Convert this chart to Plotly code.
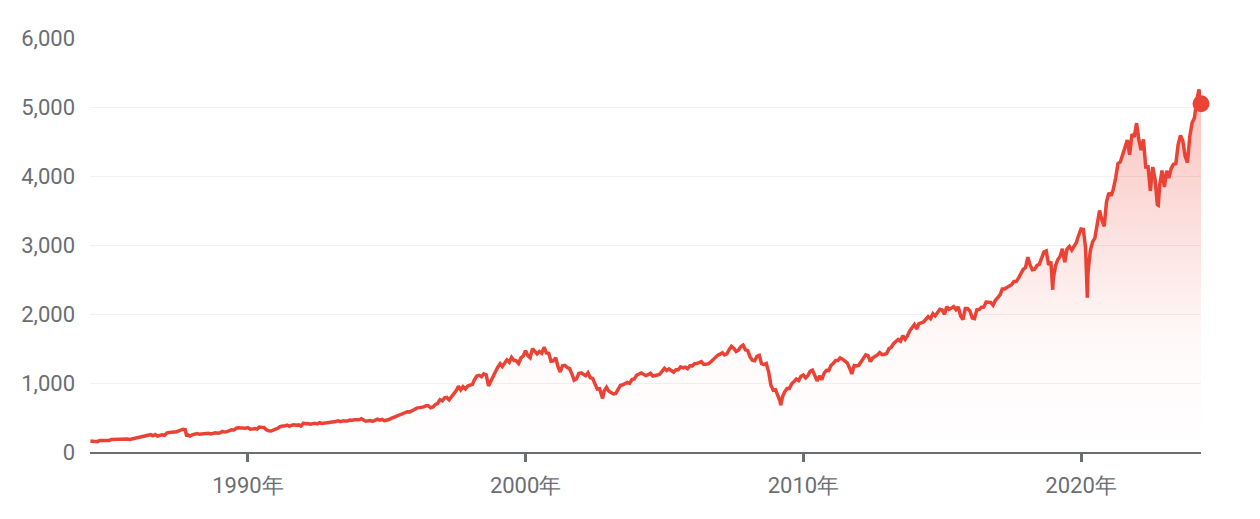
import plotly.graph_objects as go
import pandas as pd

# Monthly index closes (start Apr 1984)
vals_1984 = [160.1, 150.6, 153.2, 150.7, 166.7, 166.1, 166.1, 163.6, 167.2]
vals_1985 = [179.6, 181.2, 180.7, 179.8, 189.6, 191.9, 190.9, 188.6, 182.1, 189.8, 202.2, 211.3]
vals_1986 = [211.8, 226.9, 238.9, 235.5, 247.4, 250.8, 236.1, 252.9, 231.3, 243.0, 249.2, 242.2]
vals_1987 = [274.1, 284.2, 291.7, 288.4, 290.1, 304.0, 318.7, 329.8, 321.8, 251.8, 230.3, 247.1]
vals_1988 = [257.1, 267.8, 258.9, 261.3, 262.2, 273.5, 272.0, 261.5, 271.9, 279.0, 273.7, 277.7]
vals_1989 = [297.5, 288.9, 294.9, 309.6, 320.5, 318.0, 346.1, 351.5, 349.2, 340.4, 346.0, 353.4]
vals_1990 = [329.1, 331.9, 339.9, 330.8, 361.2, 358.0, 356.2, 322.6, 306.1, 304.0, 322.2, 330.2]
vals_1991 = [343.9, 367.1, 375.2, 375.3, 389.8, 371.2, 387.8, 395.4, 387.9, 392.5, 375.2, 417.1]
vals_1992 = [408.8, 412.7, 403.7, 415.0, 415.4, 408.1, 424.2, 414.0, 417.8, 418.7, 431.4, 435.7]
vals_1993 = [438.8, 443.4, 451.7, 440.2, 450.2, 450.5, 448.1, 463.6, 458.9, 467.8, 461.8, 466.5]
vals_1994 = [481.6, 467.1, 445.8, 450.9, 456.5, 444.3, 458.3, 475.5, 462.7, 472.4, 453.7, 459.3]
vals_1995 = [470.4, 487.4, 500.7, 514.7, 533.4, 544.8, 562.1, 561.9, 584.4, 581.5, 605.4, 615.9]
vals_1996 = [636.0, 640.4, 645.5, 654.2, 669.1, 670.6, 639.9, 652.0, 687.3, 705.3, 757.0, 740.7]
vals_1997 = [786.2, 790.8, 757.1, 801.3, 848.3, 885.1, 954.3, 899.5, 947.3, 914.6, 955.4, 970.4]
vals_1998 = [980.3, 1049.3, 1101.8, 1111.8, 1090.8, 1133.8, 1120.7, 957.3, 1017.0, 1098.7, 1163.6, 1229.2]
vals_1999 = [1279.6, 1238.3, 1286.4, 1335.2, 1301.8, 1372.7, 1328.7, 1320.4, 1282.7, 1362.9, 1389.0, 1469.3]
vals_2000 = [1394.5, 1366.4, 1498.6, 1452.4, 1420.6, 1454.6, 1430.8, 1517.7, 1436.5, 1429.4, 1315.2, 1320.3]
vals_2001 = [1366.0, 1239.9, 1160.3, 1249.5, 1256.0, 1224.4, 1211.2, 1133.6, 1040.9, 1059.8, 1139.5, 1148.1]
vals_2002 = [1130.2, 1106.7, 1147.4, 1076.9, 1067.1, 989.8, 911.6, 916.1, 815.3, 885.8, 936.3, 879.8]
vals_2003 = [855.7, 841.2, 848.2, 916.9, 963.6, 974.5, 990.3, 1008.0, 996.0, 1050.7, 1058.2, 1111.9]
vals_2004 = [1131.1, 1144.9, 1126.2, 1107.3, 1120.7, 1140.8, 1101.7, 1104.2, 1114.6, 1130.2, 1173.8, 1211.9]
vals_2005 = [1181.3, 1203.6, 1180.6, 1156.9, 1191.5, 1191.3, 1234.2, 1220.3, 1228.8, 1207.0, 1249.5, 1248.3]
vals_2006 = [1280.1, 1280.7, 1294.9, 1310.6, 1270.1, 1270.2, 1276.7, 1303.8, 1335.9, 1377.9, 1400.6, 1418.3]
vals_2007 = [1438.2, 1406.8, 1420.9, 1482.4, 1530.6, 1503.4, 1455.3, 1474.0, 1526.8, 1549.4, 1481.1, 1468.4]
vals_2008 = [1378.6, 1330.6, 1322.7, 1385.6, 1400.4, 1280.0, 1267.4, 1282.8, 1166.4, 968.8, 896.2, 903.3]
vals_2009 = [825.9, 735.1, 797.9, 872.8, 919.1, 919.3, 987.5, 1020.6, 1057.1, 1036.2, 1095.6, 1115.1]
vals_2010 = [1073.9, 1104.5, 1169.4, 1186.7, 1089.4, 1030.7, 1101.6, 1049.3, 1141.2, 1183.3, 1180.6, 1257.6]
vals_2011 = [1286.1, 1327.2, 1325.8, 1363.6, 1345.2, 1320.6, 1292.3, 1218.9, 1131.4, 1253.3, 1247.0, 1257.6]
vals_2012 = [1312.4, 1365.7, 1408.5, 1397.9, 1310.3, 1362.2, 1379.3, 1406.6, 1440.7, 1412.2, 1416.2, 1426.2]
vals_2013 = [1498.1, 1514.7, 1569.2, 1597.6, 1630.7, 1606.3, 1685.7, 1633.0, 1681.6, 1756.5, 1805.8, 1848.4]
vals_2014 = [1782.6, 1859.5, 1872.3, 1883.9, 1923.6, 1960.2, 1930.7, 2003.4, 1972.3, 2018.1, 2067.6, 2058.9]
vals_2015 = [1995.0, 2104.5, 2067.9, 2085.5, 2107.4, 2063.1, 2103.8, 1972.2, 1920.0, 2079.4, 2080.4, 2043.9]
vals_2016 = [1940.2, 1932.2, 2059.7, 2065.3, 2096.9, 2098.9, 2173.6, 2171.0, 2168.3, 2126.2, 2199.0, 2238.8]
vals_2017 = [2278.9, 2363.6, 2362.7, 2384.2, 2411.8, 2423.4, 2470.3, 2471.7, 2519.4, 2575.3, 2647.6, 2673.6]
vals_2018 = [2823.8, 2713.8, 2640.9, 2648.1, 2705.3, 2718.4, 2816.3, 2901.5, 2914.0, 2711.7, 2760.2, 2506.9]
vals_2019 = [2704.1, 2784.5, 2834.4, 2945.8, 2752.1, 2941.8, 2980.4, 2926.5, 2976.7, 3037.6, 3141.0, 3230.8]
vals_2020 = [3225.5, 2954.2, 2584.6, 2912.4, 3044.3, 3100.3, 3271.1, 3500.3, 3363.0, 3270.0, 3621.6, 3756.1]
vals_2021 = [3714.2, 3811.2, 3972.9, 4181.2, 4204.1, 4297.5, 4395.3, 4522.7, 4307.5, 4605.4, 4567.0, 4766.2]
vals_2022 = [4515.6, 4373.9, 4530.4, 4131.9, 4132.2, 3785.4, 4130.3, 3955.0, 3585.6, 3872.0, 4080.1, 3839.5]
vals_2023 = [4076.6, 3970.2, 4109.3, 4169.5, 4179.8, 4450.4, 4589.0, 4507.7, 4288.1, 4193.8, 4567.8, 4769.8]
vals_2024 = [4845.7, 5096.3, 5254.4, 5048.0]

# Intra-month extremes visible in the line
extreme_dates = ["1987-10-19", "2002-10-09", "2009-03-09", "2018-12-24", "2020-03-23", "2022-10-12"]
extreme_vals = [224.8, 776.8, 676.5, 2351.1, 2237.4, 3577.0]

all_years = [
    (1984, vals_1984), (1985, vals_1985), (1986, vals_1986), (1987, vals_1987), (1988, vals_1988),
    (1989, vals_1989), (1990, vals_1990), (1991, vals_1991), (1992, vals_1992), (1993, vals_1993),
    (1994, vals_1994), (1995, vals_1995), (1996, vals_1996), (1997, vals_1997), (1998, vals_1998),
    (1999, vals_1999), (2000, vals_2000), (2001, vals_2001), (2002, vals_2002), (2003, vals_2003),
    (2004, vals_2004), (2005, vals_2005), (2006, vals_2006), (2007, vals_2007), (2008, vals_2008),
    (2009, vals_2009), (2010, vals_2010), (2011, vals_2011), (2012, vals_2012), (2013, vals_2013),
    (2014, vals_2014), (2015, vals_2015), (2016, vals_2016), (2017, vals_2017), (2018, vals_2018),
    (2019, vals_2019), (2020, vals_2020), (2021, vals_2021), (2022, vals_2022), (2023, vals_2023),
    (2024, vals_2024),
]

dates, values = [], []
for yr, vals in all_years:
    start_month = 4 if yr == 1984 else 1
    for i, v in enumerate(vals):
        m = start_month + i
        dates.append(pd.Timestamp(yr, m, 1) + pd.offsets.MonthEnd(0))
        values.append(v)
dates[-1] = pd.Timestamp("2024-04-26")

s = pd.Series(values, index=dates)
s = pd.concat([s, pd.Series(extreme_vals, index=pd.to_datetime(extreme_dates))]).sort_index()

tick_vals = ["1990-01-01", "2000-01-01", "2010-01-01", "2020-01-01"]
tick_text = ["1990年", "2000年", "2010年", "2020年"]
y_ticks = [0, 1000, 2000, 3000, 4000, 5000, 6000]

RED = "#EA4335"
GREY = "#6a6e73"

fig = go.Figure()
fig.add_trace(go.Scatter(
    x=s.index, y=s.values, mode="lines",
    line=dict(color=RED, width=3.5),
    fill="tozeroy",
    fillgradient=dict(type="vertical", start=0, stop=5300,
                      colorscale=[[0, "rgba(234,67,53,0)"], [0.3, "rgba(234,67,53,0.03)"],
                                  [1, "rgba(234,67,53,0.33)"]]),
    hoverinfo="skip", showlegend=False,
))
fig.add_trace(go.Scatter(
    x=[s.index[-1]], y=[s.values[-1]], mode="markers",
    marker=dict(color=RED, size=17),
    hoverinfo="skip", showlegend=False, cliponaxis=False,
))

fig.update_layout(
    width=1260, height=519,
    margin=dict(l=82, r=67, t=30, b=75),
    paper_bgcolor="white", plot_bgcolor="white",
    font=dict(family="Roboto", size=22, color=GREY),
    xaxis=dict(
        range=["1984-04-25", "2024-04-26"],
        tickvals=tick_vals, ticktext=tick_text,
        showgrid=False, showline=True, linecolor=GREY, linewidth=2,
        ticks="outside", ticklen=8, tickwidth=3, tickcolor=GREY,
        ticklabelstandoff=5,
        zeroline=False, fixedrange=True,
    ),
    yaxis=dict(
        range=[0, 6000], tickvals=y_ticks, tickformat=",",
        showgrid=True, gridcolor="#f1f1f1", gridwidth=1,
        zeroline=False, showline=False, ticks="", ticklabelstandoff=14,
        fixedrange=True,
    ),
)

fig.write_html("out.html")
